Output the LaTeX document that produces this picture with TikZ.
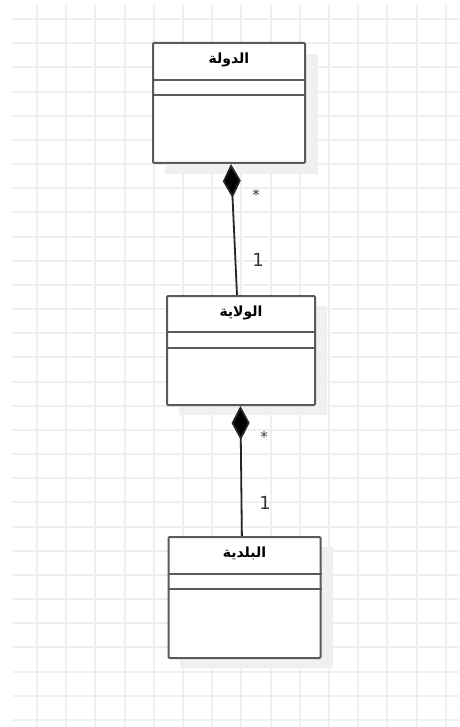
\documentclass[tikz,border=0pt]{standalone}
\usepackage{fontspec}
\usetikzlibrary{arrows.meta,calc}
\TeXXeTstate=1
\newfontfamily\arabicfont[Script=Arabic]{DejaVu Sans}
\newfontfamily\labelfont{DejaVu Sans}
\definecolor{gridc}{HTML}{EFEFEF}
\definecolor{shadowc}{HTML}{F0F0F0}
\definecolor{boxc}{HTML}{5A5A5A}
\tikzset{
  gridline/.style={draw=gridc, line width=2pt},
  umlbox/.style={draw=boxc, line width=2pt, fill=white, rounded corners=1pt, rectangle, inner sep=0pt},
  sepline/.style={draw=boxc, line width=2pt},
  title/.style={font=\arabicfont\bfseries\fontsize{14}{16}\selectfont, inner sep=0pt},
  comp/.style={draw=black!85, line width=1.8pt, {Diamond[length=34pt,width=18pt,fill=black]}-},
  mult/.style={font=\labelfont\fontsize{18}{20}\selectfont, inner sep=0pt, text=black!80},
  star/.style={font=\labelfont\fontsize{15}{17}\selectfont, inner sep=0pt, text=black!80}
}
\begin{document}
\begin{tikzpicture}[x=1pt,y=-1pt]
\useasboundingbox (0,0) rectangle (459,727);
\fill[white] (0,0) rectangle (459,727);
% grid
\foreach \gx in {37,66,95,125,154,183,212,241,271,300,329,358,387,417,446} {
  \draw[gridline] (\gx,5) -- (\gx,727);
}
\foreach \gy in {19,43,67,92,116,140,164,188,212,237,261,285,309,333,357,382,406,430,454,478,502,527,551,575,599,623,647,672,696,720} {
  \draw[gridline] (13,\gy) -- (459,\gy);
}
% shadows
\fill[shadowc] (165,54) rectangle (318,174);
\fill[shadowc] (179,306) rectangle (327,415);
\fill[shadowc] (180,547) rectangle (333,668);
% boxes
\node[umlbox, minimum width=152pt, minimum height=120pt] (dawla) at (229,103) {};
\node[umlbox, minimum width=148pt, minimum height=109pt] (wilaya) at (241,350.5) {};
\node[umlbox, minimum width=152pt, minimum height=121pt] (baladiya) at (244.5,597.5) {};
% separators
\draw[sepline] ($(dawla.north west)+(0,38)$) -- ($(dawla.north east)+(0,38)$);
\draw[sepline] ($(dawla.north west)+(0,53)$) -- ($(dawla.north east)+(0,53)$);
\draw[sepline] ($(wilaya.north west)+(0,37)$) -- ($(wilaya.north east)+(0,37)$);
\draw[sepline] ($(wilaya.north west)+(0,53)$) -- ($(wilaya.north east)+(0,53)$);
\draw[sepline] ($(baladiya.north west)+(0,38)$) -- ($(baladiya.north east)+(0,38)$);
\draw[sepline] ($(baladiya.north west)+(0,53)$) -- ($(baladiya.north east)+(0,53)$);
% titles
\node[title] (t1) at ($(dawla.north)+(0,17.5)$) {\beginR الدولة\endR};
\node[title] (t2) at ($(wilaya.north)+(0,18)$) {\beginR الولاية\endR};
\node[title] (t3) at ($(baladiya.north)+(0,17.7)$) {\beginR البلدية\endR};
% connectors
\coordinate (a1) at ($(dawla.south west)+(79,0)$);
\coordinate (b1) at ($(wilaya.north west)+(71,0)$);
\coordinate (a2) at ($(wilaya.south west)+(74.4,0)$);
\coordinate (b2) at ($(baladiya.north west)+(74.4,0)$);
\draw[comp] (a1) -- (b1);
\draw[comp] (a2) -- (b2);
% multiplicities
\node[star] (s1) at (256,195) {*};
\node[mult] (m1) at (258,260) {1};
\node[star] (s2) at (264,437) {*};
\node[mult] (m2) at (265,503) {1};
\end{tikzpicture}
\end{document}
